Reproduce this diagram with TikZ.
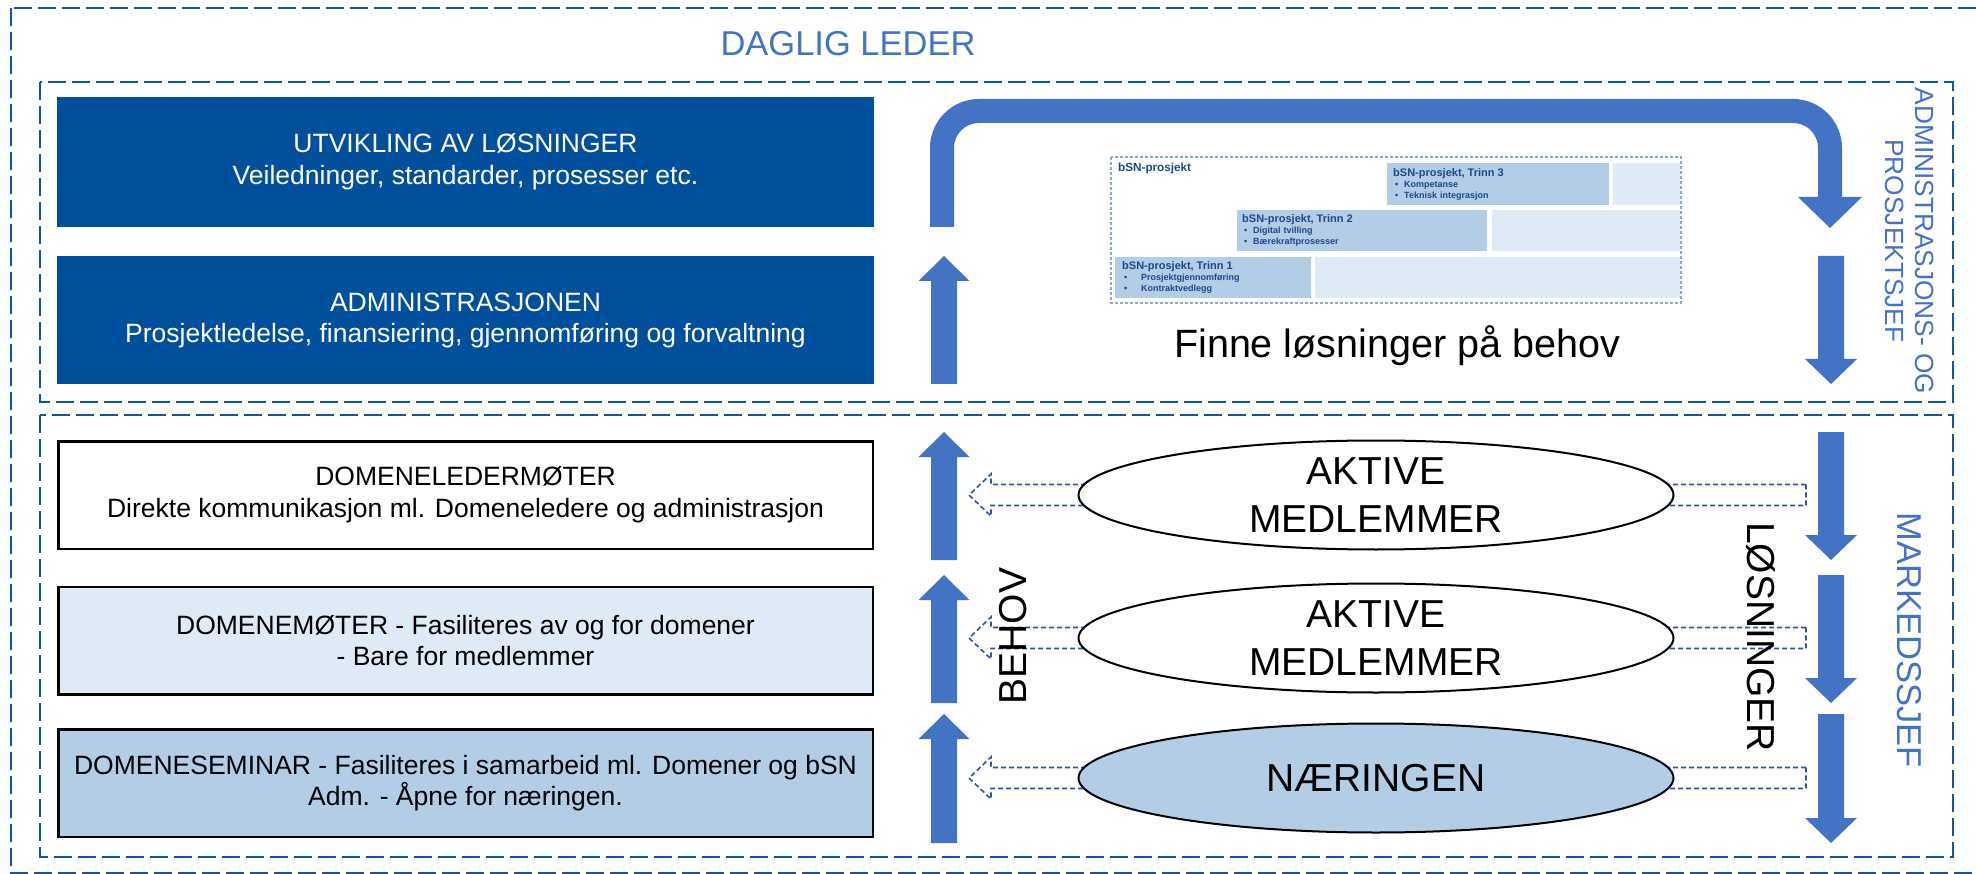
\documentclass[tikz,border=0pt]{standalone}
\usepackage{fontspec}
\setmainfont{Liberation Sans}
\usetikzlibrary{positioning,shapes.geometric}

\newcommand{\bsnpunkt}[2][9pt]{\hspace*{2pt}\makebox[#1][l]{\textbullet}#2}

\tikzset{
  dashframe/.style={draw=frameblue, line width=2.2pt, dash pattern=on 18pt off 6pt},
  darkbox/.style={fill=darkblue, text=white, minimum width=817pt, align=center,
    font=\fontsize{26.5}{31.5}\selectfont},
  meetbox/.style={draw=black, line width=2.5pt, fill=white, minimum width=814.5pt,
    minimum height=107.5pt, align=center, font=\fontsize{26.5}{31.5}\selectfont},
  member/.style={ellipse, draw=black, line width=2pt, fill=white, inner sep=0pt,
    minimum width=595pt, minimum height=109pt, align=center,
    font=\fontsize{39}{48}\selectfont},
  hollowarrow/.style={draw=hollowblue, fill=white, line width=1.6pt,
    dash pattern=on 5pt off 3pt},
  bigtext/.style={inner sep=0pt, font=\fontsize{39}{48}\selectfont},
  sidetext/.style={inner sep=0pt, text=arrowblue},
  trinnbox/.style={fill=midfill, anchor=north west, align=left, text=insettext,
    font=\fontsize{9}{11}\selectfont\bfseries},
  restbox/.style={fill=palefill, inner sep=0pt}
}

\begin{document}
\begin{tikzpicture}[x=1pt, y=-1pt]
   \definecolor{frameblue}{RGB}{16,86,166}
   \definecolor{darkblue}{RGB}{0,80,158}
   \definecolor{arrowblue}{RGB}{68,114,196}
   \definecolor{midfill}{RGB}{180,205,230}
   \definecolor{palefill}{RGB}{222,234,246}
   \definecolor{hollowblue}{RGB}{47,85,151}
   \definecolor{insettext}{RGB}{28,72,138}
   \definecolor{insetline}{RGB}{140,168,205}
   \useasboundingbox (0,0) rectangle (1976,874);

   % frames
   \draw[dashframe] (11,8) rectangle (2000,873.5);
   \draw[dashframe] (40,82) rectangle (1953,402);
   \draw[dashframe] (40,415) rectangle (1953,857);
   \node[sidetext, font=\fontsize{34.5}{40}\selectfont] (leder) at (848,44) {DAGLIG LEDER};

   % left column
   \node[darkbox, minimum height=130pt] (utvikling) at (465.5,162)
     {UTVIKLING AV LØSNINGER\\Veiledninger, standarder, prosesser etc.};
   \node[darkbox, minimum height=128pt, below=29pt of utvikling] (admin)
     {ADMINISTRASJONEN\\Prosjektledelse, finansiering, gjennomføring og forvaltning};
   \node[meetbox] (ledermoter) at (465.5,495)
     {DOMENELEDERMØTER\\Direkte kommunikasjon ml. Domeneledere og administrasjon};
   \node[meetbox, fill=palefill, below=35.5pt of ledermoter] (moter)
     {DOMENEMØTER - Fasiliteres av og for domener\\- Bare for medlemmer};
   \node[meetbox, fill=midfill, below=32.5pt of moter] (seminar)
     {DOMENESEMINAR - Fasiliteres i samarbeid ml. Domener og bSN\\Adm. - Åpne for næringen.};

   % up and down arrows
   \foreach \ya/\yb in {256/384, 432/560, 575/703, 714/843} {
     \fill[arrowblue] (944,\ya) -- (969.5,\ya+25) -- (957,\ya+25) -- (957,\yb)
       -- (931,\yb) -- (931,\ya+25) -- (918.5,\ya+25) -- cycle;
     \fill[arrowblue] (1818,\ya) -- (1844,\ya) -- (1844,\yb-25) -- (1857,\yb-25)
       -- (1831,\yb) -- (1805,\yb-25) -- (1818,\yb-25) -- cycle;
   }
   \draw[arrowblue, line width=24pt, rounded corners=37pt]
     (942,227) -- (942,111) -- (1830,111) -- (1830,198);
   \fill[arrowblue] (1798,197) -- (1862,197) -- (1830,228) -- cycle;

   % bSN-prosjekt
   \draw[draw=insetline, line width=1.3pt, dash pattern=on 3pt off 2pt]
     (1111,157) rectangle (1681,303);
   \node[inner sep=0pt, anchor=base west, text=insettext,
     font=\fontsize{11.7}{13}\selectfont\bfseries] (bsn) at (1118,172) {bSN-prosjekt};
   \node[trinnbox, minimum height=42pt, inner xsep=6pt, text width=210pt] (trinn3) at (1387,163)
     {{\fontsize{11}{11}\selectfont bSN-prosjekt, Trinn 3}\\
      \bsnpunkt{Kompetanse}\\ \bsnpunkt{Teknisk integrasjon}};
   \node[restbox, minimum width=67pt, minimum height=42pt, right=3pt of trinn3] (rest3) {};
   \node[trinnbox, minimum height=41pt, inner xsep=5pt, text width=240pt] (trinn2) at (1237,210)
     {{\fontsize{11}{11}\selectfont bSN-prosjekt, Trinn 2}\\
      \bsnpunkt{Digital tvilling}\\ \bsnpunkt{Bærekraftprosesser}};
   \node[restbox, minimum width=188pt, minimum height=41pt, right=4pt of trinn2] (rest2) {};
   \node[trinnbox, minimum height=41pt, inner xsep=7pt, text width=182pt] (trinn1) at (1115,257)
     {{\fontsize{11}{11}\selectfont bSN-prosjekt, Trinn 1}\\
      \bsnpunkt[17pt]{Prosjektgjennomføring}\\ \bsnpunkt[17pt]{Kontraktvedlegg}};
   \node[restbox, minimum width=365pt, minimum height=41pt, right=3pt of trinn1] (rest1) {};
   \node[bigtext, anchor=base, font=\fontsize{39.5}{47}\selectfont] (finne) at (1397,358)
     {Finne løsninger på behov};

   % members
   \foreach \c/\cy in {m1/495, m2/638, m3/778} {
     \coordinate (\c) at (1376,\cy);
     \draw[hollowarrow] (\c) ++(430,-10.5) -- ++(-815,0) -- ++(0,-10.5) -- ++(-22,21)
       -- ++(22,21) -- ++(0,-10.5) -- ++(815,0) -- cycle;
   }
   \node[member] (aktiv1) at (m1) {AKTIVE\\MEDLEMMER};
   \node[member] (aktiv2) at (m2) {AKTIVE\\MEDLEMMER};
   \node[member, fill=midfill] (naering) at (m3) {NÆRINGEN};

   % side texts
   \node[bigtext, rotate=90] (behov) at (1013,636) {BEHOV};
   \node[bigtext, rotate=-90] (losninger) at (1761,637) {LØSNINGER};
   \node[sidetext, rotate=-90, align=center, font=\fontsize{26.3}{30}\selectfont] (adminsjef)
     at (1910,241) {ADMINISTRASJONS- OG\\PROSJEKTSJEF};
   \node[sidetext, rotate=-90, font=\fontsize{34.5}{40}\selectfont] (markedssjef)
     at (1909,640) {MARKEDSSJEF};
\end{tikzpicture}
\end{document}
